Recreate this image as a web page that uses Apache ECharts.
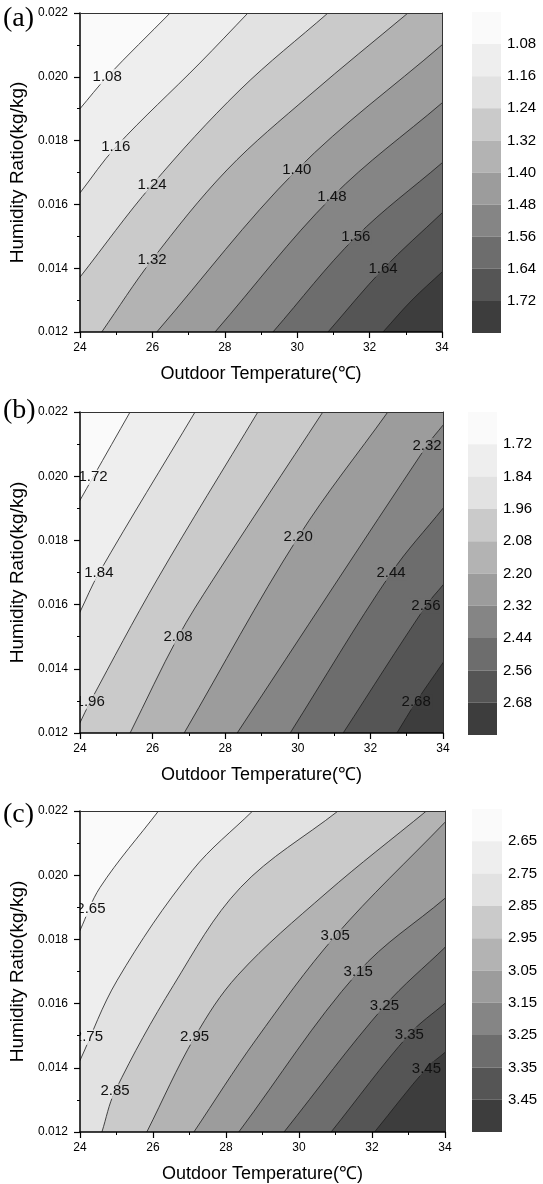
<!DOCTYPE html>
<html><head><meta charset="utf-8">
<script src="https://cdn.jsdelivr.net/npm/echarts@6/dist/echarts.min.js"></script>
<style>html,body{margin:0;padding:0;background:#fff}#c{width:543px;height:1184px}</style>
</head><body><div id="c"></div>
<script>
// ---------- data ----------
const xTicks = [24, 26, 28, 30, 32, 34];
const yTicks = [0.012, 0.014, 0.016, 0.018, 0.020, 0.022];
const xTitle = 'Outdoor Temperature(℃)';
const yTitle = 'Humidity Ratio(kg/kg)';
const bandColors = ['#fafafa','#eeeeee','#e2e2e2','#cacaca','#b3b3b3','#9c9c9c','#858585','#6d6d6d','#555555','#3d3d3d'];

// panel (a)
const aLevels = [1.08, 1.16, 1.24, 1.32, 1.40, 1.48, 1.56, 1.64, 1.72];
const aContours = [
  [[24,0.0190],[24.75,0.0200],[26.49,0.022]],
  [[24,0.01636],[24.99,0.0178],[27.31,0.02043],[28.64,0.022]],
  [[24,0.01372],[25.99,0.01661],[28.42,0.01959],[30.85,0.022]],
  [[24.6,0.012],[25.99,0.01426],[28.06,0.01708],[30.35,0.01943],[33.06,0.022]],
  [[26.12,0.012],[29.99,0.01708],[34,0.0210]],
  [[27.73,0.012],[30.96,0.01623],[34,0.01918]],
  [[29.33,0.012],[31.62,0.01498],[34,0.0173]],
  [[30.85,0.012],[32.37,0.01397],[34,0.01573]],
  [[32.37,0.012],[33.17,0.0130],[34,0.01388]]
];
const aLabels = [[24.75,0.0200,0],[24.99,0.0178,1],[25.99,0.01661,2],[25.99,0.01426,3],[29.99,0.01708,4],[30.96,0.01623,5],[31.62,0.01498,6],[32.37,0.01397,7]];

// panel (b)
const bLevels = [1.72, 1.84, 1.96, 2.08, 2.20, 2.32, 2.44, 2.56, 2.68];
const bContours = [
  [[24,0.01925],[24.36,0.01997],[25.38,0.022]],
  [[24,0.01577],[24.52,0.01698],[27.17,0.022]],
  [[24,0.01232],[24.28,0.01297],[26.12,0.01677],[28.9,0.022]],
  [[25.38,0.012],[26.7,0.01499],[27.66,0.01677],[30.69,0.022]],
  [[26.87,0.012],[30.01,0.0181],[32.48,0.022]],
  [[28.33,0.012],[33.56,0.02096],[34,0.02159]],
  [[29.79,0.012],[32.57,0.01698],[34,0.019]],
  [[31.25,0.012],[33.53,0.01596],[34,0.01661]],
  [[32.73,0.012],[33.26,0.01297],[34,0.01419]]
];
const bLabels = [[24.36,0.01997,0],[24.52,0.01698,1],[24.28,0.01297,2],[26.7,0.01499,3],[30.01,0.0181,4],[33.56,0.02096,5],[32.57,0.01698,6],[33.53,0.01596,7],[33.26,0.01297,8]];

// panel (c)
const cLevels = [2.65, 2.75, 2.85, 2.95, 3.05, 3.15, 3.25, 3.35, 3.45];
const cContours = [
  [[24,0.01828],[24.55,0.01962],[26.15,0.022]],
  [[24,0.01423],[25.02,0.01673],[27.08,0.02015],[28.73,0.022]],
  [[24.6,0.012],[24.96,0.01327],[26.56,0.01657],[28.4,0.01962],[31.07,0.022]],
  [[25.83,0.012],[27.14,0.01495],[28.32,0.01688],[30.74,0.01944],[33.49,0.022]],
  [[27.12,0.012],[28.81,0.01486],[30.99,0.0181],[34,0.02165]],
  [[28.35,0.012],[31.62,0.01698],[34,0.01928]],
  [[29.59,0.012],[32.34,0.01592],[34,0.01775]],
  [[30.88,0.012],[33.02,0.01504],[34,0.01601]],
  [[32.07,0.012],[33.49,0.01398],[34,0.01448]]
];
const cLabels = [[24.30,0.01894,0],[24.23,0.01495,1],[24.96,0.01327,2],[27.14,0.01495,3],[30.99,0.0181,4],[31.62,0.01698,5],[32.34,0.01592,6],[33.02,0.01504,7],[33.49,0.01398,8]];

// ---------- layout ----------
const FONT = '"Liberation Sans", Arial, sans-serif';
const panels = [
  {tag:'(a)', levels:aLevels, contours:aContours, labels:aLabels, tagTop:5,
   plot:{left:80, top:13, width:362, height:319}, bar:{left:472, top:12, width:29, height:321}},
  {tag:'(b)', levels:bLevels, contours:bContours, labels:bLabels, tagTop:397,
   plot:{left:80, top:412, width:363, height:321}, bar:{left:468, top:412, width:29, height:323}},
  {tag:'(c)', levels:cLevels, contours:cContours, labels:cLabels, tagTop:801,
   plot:{left:80, top:811, width:365, height:321}, bar:{left:472, top:809, width:30, height:323}}
];

// keep the part of a convex polygon on one side of a line through q with normal n
function clipHalf(poly, q, n, sign) {
  const out = [];
  const side = P => sign * ((P[0]-q[0])*n[0] + (P[1]-q[1])*n[1]);
  for (let i = 0; i < poly.length; i++) {
    const P = poly[i], Q = poly[(i+1) % poly.length];
    const dp = side(P), dq = side(Q);
    if (dp >= 0) out.push(P);
    if ((dp >= 0) !== (dq >= 0)) {
      const t = dp / (dp - dq);
      out.push([P[0] + t*(Q[0]-P[0]), P[1] + t*(Q[1]-P[1])]);
    }
  }
  return out;
}

const grid = [], xAxis = [], yAxis = [], series = [], title = [];
panels.forEach((p) => {
  const gPlot = grid.length;
  grid.push(Object.assign({show:true, backgroundColor:bandColors[0], borderWidth:0}, p.plot));
  const gBar = grid.length;
  grid.push(Object.assign({show:false}, p.bar));

  const xb = xAxis.length;
  xAxis.push({gridIndex:gPlot, type:'value', min:xTicks[0], max:xTicks[xTicks.length-1], interval:xTicks[1]-xTicks[0],
    position:'bottom', z:10,
    axisLine:{show:true, onZero:false, lineStyle:{color:'#000', width:1.5}},
    axisTick:{show:true, length:6, lineStyle:{color:'#000', width:1.2}},
    minorTick:{show:true, splitNumber:2, length:3, lineStyle:{color:'#000', width:1}},
    splitLine:{show:false},
    axisLabel:{color:'#000', fontSize:12, fontFamily:FONT, margin:10},
    name:xTitle, nameLocation:'middle', nameGap:33,
    nameTextStyle:{color:'#000', fontSize:18, fontFamily:FONT}});
  xAxis.push({gridIndex:gPlot, type:'value', min:xTicks[0], max:xTicks[xTicks.length-1], position:'top', z:10,
    axisLine:{show:true, onZero:false, lineStyle:{color:'#333', width:1}},
    axisTick:{show:false}, axisLabel:{show:false}, splitLine:{show:false}});
  xAxis.push({gridIndex:gBar, type:'value', min:0, max:1, show:false});

  const yb = yAxis.length;
  yAxis.push({gridIndex:gPlot, type:'value', min:yTicks[0], max:yTicks[yTicks.length-1], interval:0.002,
    position:'left', z:10,
    axisLine:{show:true, onZero:false, lineStyle:{color:'#000', width:1.5}},
    axisTick:{show:true, length:6, lineStyle:{color:'#000', width:1.2}},
    minorTick:{show:true, splitNumber:2, length:3, lineStyle:{color:'#000', width:1}},
    splitLine:{show:false},
    axisLabel:{color:'#000', fontSize:12, fontFamily:FONT, margin:12, formatter:v => v.toFixed(3)},
    name:yTitle, nameLocation:'middle', nameGap:50, nameRotate:90,
    nameTextStyle:{color:'#000', fontSize:19, fontFamily:FONT}});
  yAxis.push({gridIndex:gPlot, type:'value', min:yTicks[0], max:yTicks[yTicks.length-1], position:'right', z:10,
    axisLine:{show:true, onZero:false, lineStyle:{color:'#333', width:1}},
    axisTick:{show:false}, axisLabel:{show:false}, splitLine:{show:false}});
  const nB = p.levels.length + 1;
  yAxis.push({gridIndex:gBar, type:'value', min:0, max:nB, interval:1, inverse:true, position:'right',
    axisLine:{show:false}, axisTick:{show:false}, splitLine:{show:false},
    axisLabel:{color:'#000', fontSize:15, fontFamily:FONT, margin:6,
      formatter:v => (v >= 1 && v <= p.levels.length) ? p.levels[v-1].toFixed(2) : ''}});

  // filled contour regions with boundary lines
  series.push({type:'custom', xAxisIndex:xb, yAxisIndex:yb, clip:true, silent:true, z:1,
    encode:{x:0, y:1},
    data:p.contours.map((c, i) => [c[0][0], c[0][1], i]),
    renderItem:(params, api) => {
      const k = params.dataIndex;
      const pts = p.contours[k].map(pt => api.coord(pt));
      const cs = params.coordSys;
      const ext = (a, b) => {
        const dx = a[0]-b[0], dy = a[1]-b[1], L = Math.hypot(dx, dy) || 1;
        return [a[0]+dx/L*40, a[1]+dy/L*40];
      };
      const e0 = ext(pts[0], pts[1]);
      const eN = ext(pts[pts.length-1], pts[pts.length-2]);
      const XR = cs.x + cs.width + 400, YB = cs.y + cs.height + 400;
      const poly = [e0].concat(pts, [eN, [XR, eN[1]], [XR, YB], [e0[0], YB]]);
      return {type:'polygon', shape:{points:poly, smooth:0.35},
        style:{fill:bandColors[k+1], stroke:'#1e1e1e', lineWidth:0.8}};
    }});
  // contour labels: the line is broken under the label, each side keeps its band colour
  series.push({type:'custom', xAxisIndex:xb, yAxisIndex:yb, clip:true, silent:true, z:3,
    encode:{x:0, y:1},
    data:p.labels,
    renderItem:(params, api) => {
      const d = p.labels[params.dataIndex];
      const k = d[2];
      const c = api.coord([d[0], d[1]]);
      const pts = p.contours[k].map(pt => api.coord(pt));
      // nearest point on the contour polyline and local direction
      let q = c, dir = [1, -1], bd = Infinity;
      for (let i = 0; i < pts.length; i++) {
        const dd = Math.hypot(pts[i][0]-c[0], pts[i][1]-c[1]);
        if (dd < 2 && dd < bd) {
          bd = dd; q = pts[i];
          const A = pts[Math.max(0, i-1)], B = pts[Math.min(pts.length-1, i+1)];
          dir = [B[0]-A[0], B[1]-A[1]];
        }
      }
      if (bd === Infinity) {
        for (let i = 0; i < pts.length-1; i++) {
          const A = pts[i], B = pts[i+1];
          const vx = B[0]-A[0], vy = B[1]-A[1], L2 = vx*vx + vy*vy || 1;
          let t = ((c[0]-A[0])*vx + (c[1]-A[1])*vy) / L2;
          t = Math.max(0, Math.min(1, t));
          const P = [A[0]+t*vx, A[1]+t*vy];
          const dd = Math.hypot(P[0]-c[0], P[1]-c[1]);
          if (dd < bd) { bd = dd; q = P; dir = [vx, vy]; }
        }
      }
      const n = [-dir[1], dir[0]];
      const w = 16, h = 7.5;
      const rect = [[c[0]-w, c[1]-h], [c[0]+w, c[1]-h], [c[0]+w, c[1]+h], [c[0]-w, c[1]+h]];
      const lo = clipHalf(rect, q, n, -1), hi = clipHalf(rect, q, n, 1);
      const children = [];
      if (lo.length > 2) children.push({type:'polygon', shape:{points:lo}, style:{fill:bandColors[k]}});
      if (hi.length > 2) children.push({type:'polygon', shape:{points:hi}, style:{fill:bandColors[k+1]}});
      children.push({type:'text', x:c[0], y:c[1],
        style:{text:p.levels[k].toFixed(2), align:'center', verticalAlign:'middle',
          font:'15px ' + FONT, fill:'#111'}});
      return {type:'group', children};
    }});
  // colour bar
  series.push({type:'custom', xAxisIndex:xb+2, yAxisIndex:yb+2, silent:true, z:1,
    encode:{x:0, y:1},
    data:bandColors.map((col, i) => [0, i]),
    renderItem:(params, api) => {
      const i = params.dataIndex;
      const a = api.coord([0, i]), b = api.coord([1, i+1]);
      return {type:'rect', shape:{x:Math.min(a[0],b[0]), y:Math.min(a[1],b[1]),
        width:Math.abs(b[0]-a[0]), height:Math.abs(b[1]-a[1])},
        style:{fill:bandColors[i]}};
    }});

  title.push({text:p.tag, left:3, top:p.tagTop, padding:0,
    textStyle:{fontFamily:'"Liberation Serif", "Times New Roman", serif', fontSize:28, fontWeight:'normal', color:'#000'}});
});

const chart = echarts.init(document.getElementById('c'), null, {renderer:'canvas'});
chart.setOption({animation:false, backgroundColor:'#fff', title, grid, xAxis, yAxis, series});
</script></body></html>
